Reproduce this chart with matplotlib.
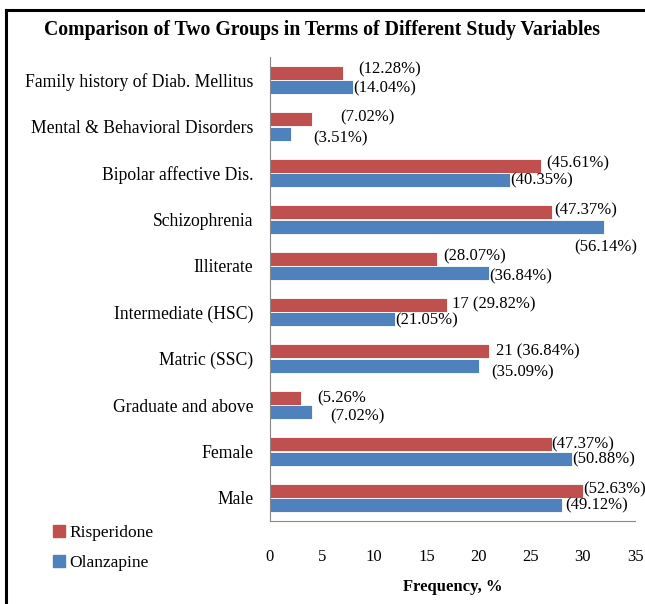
import numpy as np
import matplotlib.pyplot as plt
from matplotlib.lines import Line2D

plt.rcParams['font.family'] = ['Liberation Serif', 'DejaVu Serif']

categories = ['Family history of Diab. Mellitus', 'Mental & Behavioral Disorders',
              'Bipolar affective Dis.', 'Schizophrenia', 'Illiterate',
              'Intermediate (HSC)', 'Matric (SSC)', 'Graduate and above',
              'Female', 'Male']
risperidone = [7, 4, 26, 27, 16, 17, 21, 3, 27, 30]
olanzapine = [8, 2, 23, 32, 21, 12, 20, 4, 29, 28]
risp_labels = ['(12.28%)', '(7.02%)', '(45.61%)', '(47.37%)', '(28.07%)',
               '17 (29.82%)', '21 (36.84%)', '(5.26%', '(47.37%)', '(52.63%)']
olan_labels = ['(14.04%)', '(3.51%)', '(40.35%)', '(56.14%)', '(36.84%)',
               '(21.05%)', '(35.09%)', '(7.02%)', '(50.88%)', '(49.12%)']

red = '#C0504D'
blue = '#4F81BD'

fig = plt.figure(figsize=(6.45, 6.04), dpi=100)
ax = fig.add_axes([270 / 645, 1 - 521 / 604, 365 / 645, 464 / 604])

y = np.arange(len(categories))[::-1]
h = 0.3
ax.barh(y + h / 2 + 0.005, risperidone, height=h, color=red, edgecolor='white', linewidth=0.6)
ax.barh(y - h / 2 - 0.005, olanzapine, height=h, color=blue, edgecolor='white', linewidth=0.6)

# label offsets (data units) for the crowded labels
risp_dx = [1.5, 2.7, 0.5, 0.3, 0.6, 0.5, 0.7, 1.5, 0.0, 0.0]
risp_dy = [0.08, 0.05, 0.05, 0.05, 0.05, 0.02, 0.0, 0.0, 0.0, 0.03]
olan_dx = [0.0, 2.1, 0.0, -2.8, 0.0, 0.0, 1.2, 1.8, 0.0, 0.3]
olan_dy = [-0.02, -0.1, -0.02, -0.45, -0.08, -0.02, -0.15, -0.1, -0.02, -0.02]

for i in range(len(categories)):
    ax.text(risperidone[i] + risp_dx[i], y[i] + h / 2 + risp_dy[i], risp_labels[i],
            va='center', ha='left', fontsize=12)
    ax.text(olanzapine[i] + olan_dx[i], y[i] - h / 2 + olan_dy[i], olan_labels[i],
            va='center', ha='left', fontsize=12)

ax.set_xlim(0, 35)
ax.set_ylim(-0.5, len(categories) - 0.5)
ax.set_xticks(np.arange(0, 36, 5))
ax.set_yticks(y)
ax.set_yticklabels(categories, fontsize=12.7)
ax.tick_params(axis='both', length=0)
ax.tick_params(axis='x', pad=20, labelsize=12)
ax.tick_params(axis='y', pad=12)
for s in ['top', 'right']:
    ax.spines[s].set_visible(False)
ax.spines['left'].set_color('#888888')
ax.spines['bottom'].set_color('#888888')
ax.set_xlabel('Frequency, %', fontsize=12, fontweight='bold', labelpad=10)

fig.text(0.5, 1 - 30 / 604, 'Comparison of Two Groups in Terms of Different Study Variables',
         ha='center', va='center', fontsize=14.2, fontweight='bold')

handles = [Line2D([], [], marker='s', linestyle='', color=red, markersize=8),
           Line2D([], [], marker='s', linestyle='', color=blue, markersize=8)]
fig.legend(handles, ['Risperidone', 'Olanzapine'], loc='upper left',
           bbox_to_anchor=(35 / 645, 1 - 509 / 604), frameon=False, fontsize=12.5,
           handletextpad=0.1, labelspacing=0.8, handlelength=1.0)

# frame lines on the left and top
fig.add_artist(Line2D([6 / 645, 6 / 645], [0, 1 - 10 / 604], color='black', lw=2.2))
fig.add_artist(Line2D([6 / 645, 1], [1 - 10 / 604, 1 - 10 / 604], color='black', lw=2.2))

plt.savefig('out.png', dpi=100)
